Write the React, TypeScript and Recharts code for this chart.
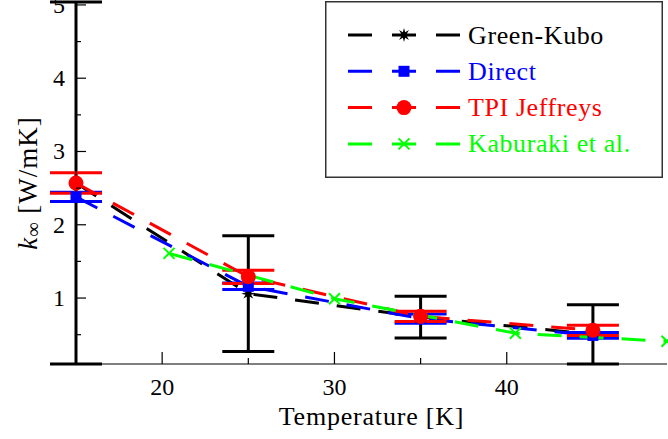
import { LineChart, Line, XAxis, YAxis, ErrorBar, Legend } from "recharts";

// thermal conductivity vs temperature
const temperatures = [15, 25, 35, 45];
const greenKubo = [2.57, 1.06, 0.74, 0.505];
const greenKuboErr = [2.47, 0.79, 0.285, 0.405];
const direct = [2.38, 1.16, 0.72, 0.49];
const directErr = [0.063, 0.045, 0.063, 0.04];
const tpiJeffreys = [2.57, 1.29, 0.75, 0.56];
const tpiJeffreysErr = [0.14, 0.09, 0.07, 0.07];
const kaburakiTemps = [20.4, 30, 40.5, 49.3];
const kaburaki = [1.61, 0.99, 0.52, 0.41];

const xTicks = [20, 25, 30, 35, 40, 45];
const yTicks = [0.5, 1, 1.5, 2, 2.5, 3, 3.5, 4, 4.5, 5];

const FONT = '"Liberation Serif"';
const DASH = "24 18";

type Shape = "star" | "square" | "circle" | "cross";

const SERIES: { name: string; color: string; shape: Shape }[] = [
  { name: "Green-Kubo", color: "#000000", shape: "star" },
  { name: "Direct", color: "#0000ff", shape: "square" },
  { name: "TPI Jeffreys", color: "#ff0000", shape: "circle" },
  { name: "Kaburaki et al.", color: "#00ff00", shape: "cross" },
];

const rows = (vals: number[], errs: number[]) =>
  temperatures.map((t, i) => ({ t, k: vals[i], err: errs[i] }));

const gkRows = rows(greenKubo, greenKuboErr);
const directRows = rows(direct, directErr);
const tpiRows = rows(tpiJeffreys, tpiJeffreysErr);
const kabRows = kaburakiTemps.map((t, i) => ({ t, k: kaburaki[i] }));

function Marker({ cx, cy, shape, color }: { cx: number; cy: number; shape: Shape; color: string }) {
  if (shape === "star") {
    const pts: string[] = [];
    for (let i = 0; i < 16; i++) {
      const a = (i * Math.PI) / 8 - Math.PI / 2;
      const r = i % 2 ? 3 : 7;
      pts.push(`${cx + r * Math.cos(a)},${cy + r * Math.sin(a)}`);
    }
    return <polygon points={pts.join(" ")} fill={color} />;
  }
  if (shape === "square") {
    return <rect x={cx - 5.5} y={cy - 5.5} width={11} height={11} fill={color} />;
  }
  if (shape === "circle") {
    return <circle cx={cx} cy={cy} r={7.5} fill={color} />;
  }
  return (
    <g stroke={color} strokeWidth={2}>
      <line x1={cx - 5.5} y1={cy - 5.5} x2={cx + 5.5} y2={cy + 5.5} />
      <line x1={cx - 5.5} y1={cy + 5.5} x2={cx + 5.5} y2={cy - 5.5} />
    </g>
  );
}

const dotFor = (shape: Shape, color: string) => (p: any) =>
  <Marker key={`${shape}-${p.index}`} cx={p.cx} cy={p.cy} shape={shape} color={color} />;

const tickText = { style: { fontFamily: FONT }, fontSize: 24, fill: "#000" };

const BottomTick = (p: any) => {
  const v = p.payload.value;
  const major = v % 10 === 0;
  return (
    <g>
      <line x1={p.x} x2={p.x} y1={p.y} y2={p.y - (major ? 12 : 6)} stroke="#000" strokeWidth={1.2} />
      {major && (
        <text x={p.x} y={p.y + 23} textAnchor="middle" dominantBaseline="central" {...tickText}>
          {v}
        </text>
      )}
    </g>
  );
};

const TopTick = (p: any) => {
  const major = p.payload.value % 10 === 0;
  return <line x1={p.x} x2={p.x} y1={p.y} y2={p.y + (major ? 12 : 6)} stroke="#000" strokeWidth={1.2} />;
};

const LeftTick = (p: any) => {
  const v = p.payload.value;
  const major = Number.isInteger(v);
  return (
    <g>
      <line x1={p.x} x2={p.x + (major ? 10 : 5)} y1={p.y} y2={p.y} stroke="#000" strokeWidth={1.2} />
      {major && (
        <text x={p.x - 11} y={p.y} textAnchor="end" dominantBaseline="central" {...tickText}>
          {v}
        </text>
      )}
    </g>
  );
};

const RightTick = (p: any) => {
  const major = Number.isInteger(p.payload.value);
  return <line x1={p.x} x2={p.x - (major ? 10 : 5)} y1={p.y} y2={p.y} stroke="#000" strokeWidth={1.2} />;
};

const XLabel = (props: any) => {
  const vb = props.viewBox;
  return (
    <text
      x={vb.x + vb.width / 2}
      y={vb.y + 61}
      textAnchor="middle"
      style={{ fontFamily: FONT, letterSpacing: 0.8 }}
      fontSize={26}
      fill="#000"
    >
      Temperature [K]
    </text>
  );
};

const YLabel = (props: any) => {
  const vb = props.viewBox;
  const cx = 28;
  const cy = vb.y + vb.height / 2;
  return (
    <text
      x={cx}
      y={cy}
      transform={`rotate(-90, ${cx}, ${cy})`}
      textAnchor="middle"
      dominantBaseline="central"
      style={{ fontFamily: FONT, letterSpacing: 1 }}
      fontSize={27}
      fill="#000"
    >
      <tspan fontStyle="italic">k</tspan>
      <tspan fontSize={20} dy={5}>∞</tspan>
      <tspan dy={-5}> [W/mK]</tspan>
    </text>
  );
};

const LegendBox = () => (
  <svg width={338} height={177} style={{ display: "block" }}>
    <rect x={0.75} y={0.75} width={336.5} height={175.5} fill="#fff" stroke="#333" strokeWidth={1.5} />
    {SERIES.map((s, i) => {
      const y = 34 + i * 36.3;
      return (
        <g key={s.name}>
          <line x1={23} x2={135} y1={y} y2={y} stroke={s.color} strokeWidth={3} strokeDasharray="24 20" />
          <Marker cx={79} cy={y} shape={s.shape} color={s.color} />
          <text
            x={143}
            y={y}
            dominantBaseline="central"
            style={{ fontFamily: FONT, letterSpacing: 0.6 }}
            fontSize={26}
            fill={s.color}
          >
            {s.name}
          </text>
        </g>
      );
    })}
  </svg>
);

export default function App() {
  return (
    <div style={{ position: "absolute", left: 0, top: 0 }}>
      <LineChart width={668} height={439} margin={{ top: 2, right: 1, bottom: 0, left: 0 }}>
        <XAxis
          type="number"
          dataKey="t"
          domain={[15, 49.3]}
          ticks={xTicks}
          interval={0}
          height={75}
          tickSize={0}
          tickMargin={0}
          tickLine={false}
          axisLine={{ stroke: "#000", strokeWidth: 1.2 }}
          tick={BottomTick}
          label={XLabel}
        />
        <XAxis
          xAxisId="top"
          orientation="top"
          type="number"
          dataKey="t"
          domain={[15, 49.3]}
          allowDataOverflow
          ticks={xTicks}
          interval={0}
          height={0}
          tickSize={0}
          tickMargin={0}
          tickLine={false}
          axisLine={{ stroke: "#000", strokeWidth: 1.2 }}
          tick={TopTick}
        />
        <YAxis
          type="number"
          domain={[0.1, 5.04]}
          ticks={yTicks}
          interval={0}
          width={76}
          tickSize={0}
          tickMargin={0}
          tickLine={false}
          axisLine={{ stroke: "#000", strokeWidth: 1.2 }}
          tick={LeftTick}
          label={YLabel}
        />
        <YAxis
          yAxisId="right"
          orientation="right"
          type="number"
          domain={[0.1, 5.04]}
          allowDataOverflow
          ticks={yTicks}
          interval={0}
          width={0}
          tickSize={0}
          tickMargin={0}
          tickLine={false}
          axisLine={{ stroke: "#555", strokeWidth: 1.2 }}
          tick={RightTick}
        />
        <Legend
          layout="vertical"
          align="center"
          verticalAlign="middle"
          content={LegendBox}
          wrapperStyle={{ position: "absolute", left: 325, top: 1, width: 338, height: 177 }}
        />
        <Line
          data={gkRows}
          dataKey="k"
          name={SERIES[0].name}
          stroke={SERIES[0].color}
          strokeWidth={3}
          strokeDasharray={DASH}
          dot={dotFor("star", SERIES[0].color)}
          isAnimationActive={false}
        >
          <ErrorBar dataKey="err" direction="y" width={26} stroke={SERIES[0].color} strokeWidth={3} />
        </Line>
        <Line
          data={directRows}
          dataKey="k"
          name={SERIES[1].name}
          stroke={SERIES[1].color}
          strokeWidth={3}
          strokeDasharray={DASH}
          dot={dotFor("square", SERIES[1].color)}
          isAnimationActive={false}
        >
          <ErrorBar dataKey="err" direction="y" width={26} stroke={SERIES[1].color} strokeWidth={3} />
        </Line>
        <Line
          data={tpiRows}
          dataKey="k"
          name={SERIES[2].name}
          stroke={SERIES[2].color}
          strokeWidth={3}
          strokeDasharray={DASH}
          dot={dotFor("circle", SERIES[2].color)}
          isAnimationActive={false}
        >
          <ErrorBar dataKey="err" direction="y" width={26} stroke={SERIES[2].color} strokeWidth={3} />
        </Line>
        <Line
          data={kabRows}
          dataKey="k"
          name={SERIES[3].name}
          stroke={SERIES[3].color}
          strokeWidth={3}
          strokeDasharray={DASH}
          dot={dotFor("cross", SERIES[3].color)}
          isAnimationActive={false}
        />
      </LineChart>
    </div>
  );
}
